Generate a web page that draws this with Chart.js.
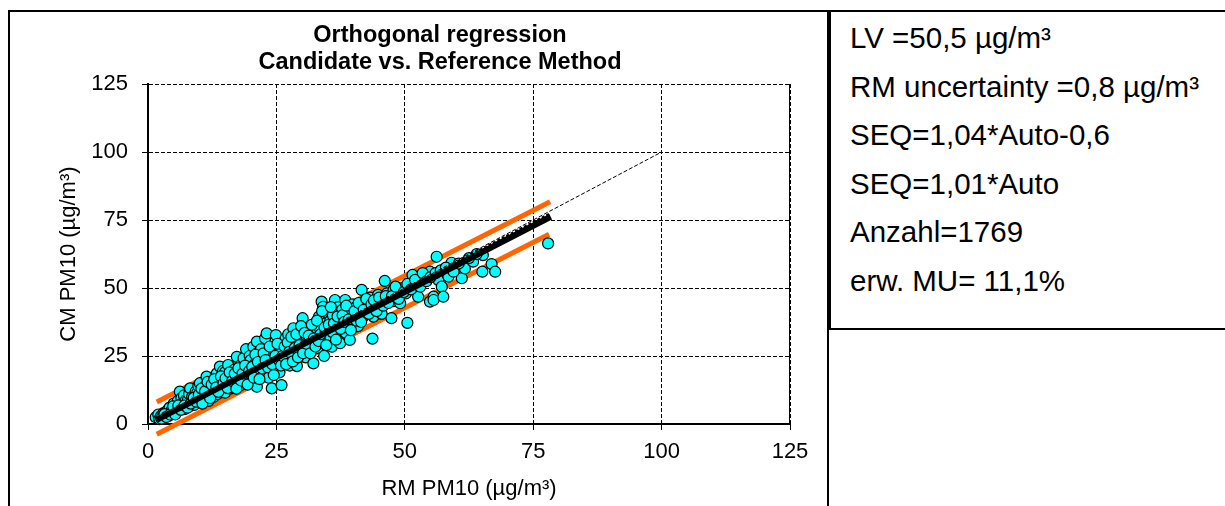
<!DOCTYPE html>
<html lang="en">

<head>
   <meta charset="UTF-8">
   <title>Orthogonal regression - PM10</title>
   <style>
      body { margin: 0; background: #fff; font-family: "Liberation Sans", Arial, sans-serif; }
      #chartBox { position: absolute; left: 8px; top: 10px; width: 821px; height: 520px; border: 2px solid #000; box-sizing: border-box; }
      #chartWrap { position: absolute; left: 10px; top: 12px; width: 860px; height: 494px; }
      #infoBox { position: absolute; left: 829px; top: 10px; width: 420px; height: 320px; border: 2px solid #000; box-sizing: border-box; background: #fff; z-index: 2; padding: 2px 0 0 19px; }
      #infoBox div { font-size: 29.5px; line-height: 48.5px; color: #000; white-space: nowrap; }
   </style>
</head>

<body>
   <script src="https://cdn.jsdelivr.net/npm/chart.js@4.4.1/dist/chart.umd.min.js"></script>
   <div id="chartBox"></div>
   <div id="chartWrap"><canvas id="scatter-chart"></canvas></div>
   <div id="infoBox">
      <div>LV =50,5 µg/m³</div>
      <div>RM uncertainty =0,8 µg/m³</div>
      <div>SEQ=1,04*Auto-0,6</div>
      <div>SEQ=1,01*Auto</div>
      <div>Anzahl=1769</div>
      <div>erw. MU= 11,1%</div>
   </div>
   <script>
      // paired values (RM = reference, CM = candidate)
      const rmPm10 = [1.5, 2, 2.2, 2.5, 3, 3, 3.4, 3.5, 3.8, 4, 4.2, 4.5, 4.6, 4.8, 5, 5, 5.2, 5.5, 5.6, 5.8,
         6, 6.2, 6.3, 6.5, 6.6, 6.8, 7, 7, 7.2, 7.4, 7.5, 7.8, 8, 8, 8.2, 8.5, 8.6, 8.8, 9, 9,
         9.3, 9.5, 9.6, 9.8, 10, 10.1, 10.3, 10.5, 10.8, 10.8, 11, 11.2, 11.4, 11.4, 11.8, 12, 12.2, 12.5, 12.6, 12.8,
         13, 13.2, 13.4, 13.5, 13.8, 14, 14, 14.3, 14.5, 14.6, 14.8, 15, 15, 15.3, 15.6, 15.8, 16, 16, 16.2, 16.6,
         16.8, 17, 17.3, 17.5, 17.8, 18, 18, 18.2, 18.6, 18.8, 19, 19.1, 19.2, 19.5, 19.8, 20, 20, 20.2, 20.5, 20.8,
         21, 21.2, 21.2, 21.2, 21.5, 21.8, 22, 22, 22.4, 22.6, 22.8, 23, 23.1, 23.3, 23.5, 23.8, 24, 24.1, 24.4, 24.6,
         24.9, 25, 25.3, 25.6, 25.8, 26, 26, 26.3, 26.5, 26.8, 27, 27, 27.3, 27.6, 27.8, 28, 28.3, 28.5, 28.8, 29,
         29, 29.3, 29.6, 30, 30.1, 30.4, 30.7, 30.9, 31, 31.2, 31.5, 31.8, 32, 32.2, 32.5, 32.8, 33, 33.3, 33.5, 33.8,
         34, 34.1, 34.3, 34.6, 34.8, 35, 35.4, 35.5, 35.8, 36, 36.4, 36.5, 36.8, 37, 37.2, 37.4, 37.8, 38, 38.4, 38.5,
         38.8, 39, 39.3, 39.6, 39.8, 40, 40.5, 40.9, 41.3, 41.6, 41.9, 42.3, 42.8, 43.2, 43.7, 43.9, 44.3, 44.8, 45.2, 45.5,
         46.1, 46.5, 47.1, 47.4, 47.8, 47.9, 48.5, 49.1, 49.5, 50.2, 50.5, 51, 51.5, 51.7, 52.3, 52.6, 53.2, 53.8, 54.9, 54.9,
         55.6, 55.6, 56.2, 56.5, 57.2, 57.5, 58.5, 59.1, 60, 61.1, 61.7, 63.3, 65.1, 65.2, 66.9, 67.6, 77.9,
         2.6, 3.2, 3.6, 4.3, 4.9, 5.3, 5.9, 6.4, 7.1, 7.7, 8.3, 8.9, 9.4, 9.9, 10.4, 10.6,
         11.1, 11.6, 12.1, 12.4, 12.9, 13.3, 13.7, 14.2, 14.7, 15.1, 15.5, 15.9, 16.4, 16.9, 17.2, 17.6, 18.1, 18.4, 18.9, 19.4,
         19.7, 20.3, 20.6, 20.9, 21.4, 21.7, 22.2, 22.5, 22.9, 23.4, 23.7, 24.2, 24.5, 24.8, 25.2, 25.5, 25.9, 26.2, 26.6, 26.9,
         27.2, 27.5, 27.9, 28.2, 28.6, 28.9, 29.2, 29.5, 29.8, 30.2, 30.5, 30.8, 31.3, 31.6, 31.9, 32.3, 32.6, 32.9, 33.2, 33.6,
         33.9, 34.4, 34.7, 35.2, 35.6, 35.9, 36.2, 36.6, 36.9, 37.5, 37.9, 38.2, 38.6, 39.1, 39.5, 40.2, 40.6, 41, 41.5, 42,
         42.5, 43, 43.5, 44, 44.5, 45, 45.8, 46.3, 46.8, 47.5, 48.2, 48.8, 49.8, 50.5, 51.2, 52, 53, 53.5, 54.2, 55,
         56, 57, 58, 59.5, 60.5, 62.5, 64];
      const cmPm10 = [2.5, 3.5, 1.8, 2.8, 4, 2.5, 4.2, 3.2, 5, 3, 6, 4.5, 5, 3.8, 5.5, 7.5, 4.2, 6.2, 5.5, 8.5,
         5, 11.9, 7, 9.5, 7.5, 6, 8, 10.5, 5.5, 8.8, 7.5, 9, 6.5, 11, 13.1, 8, 10, 8.8, 10, 7,
         12, 9, 11.5, 14, 8, 15, 11, 9.5, 12.5, 10.5, 10.5, 14, 17.4, 10, 8.5, 13, 11.5, 15.5, 13.8, 10,
         12.5, 16, 18.6, 11, 14, 12.5, 21.1, 15.5, 13, 19.5, 17, 11.5, 19, 14.5, 21.7, 16, 13, 17.5, 18, 13.7,
         20, 15.5, 24.7, 17, 14, 19.5, 21, 22, 24.2, 16.5, 18, 27.5, 16.2, 21, 25, 19, 23.5, 15.5, 28.4, 22,
         17.5, 26, 30.3, 13.7, 20, 24, 18.5, 27.5, 24.7, 21.5, 31.5, 19.5, 33.3, 26.5, 17, 22.5, 26, 13.1, 23.5, 28,
         32.7, 21, 25.5, 19, 29, 14.3, 27, 30, 23, 31.5, 28.4, 25, 33, 21.5, 24, 29, 35.2, 26, 31, 21.3,
         30.5, 27.5, 33.5, 28, 38.9, 31, 24.5, 31.1, 27, 35, 29, 33, 30, 22.3, 36.5, 33.3, 28, 39.5, 35, 45,
         31, 43.1, 25, 37, 41, 34, 32.4, 38, 28.4, 40, 45.6, 33, 35.5, 43, 38, 29.7, 42, 36, 45.6, 33.5,
         40, 42.5, 30.9, 37.5, 44, 39, 43, 36, 41, 49.3, 39.5, 44, 41.5, 46.5, 31.4, 39.5, 43, 47.5, 44.4, 40.5,
         52.6, 48, 46.2, 38.9, 49.3, 45.2, 47.5, 44.4, 50, 48, 37.2, 51, 54.8, 51.9, 49.9, 46.8, 52, 54, 56, 45,
         46.8, 45.6, 61.5, 53, 50.5, 46.8, 54.2, 59.3, 57.5, 53.6, 57.2, 59.7, 56, 62.1, 58.8, 56, 66.4,
         2, 3.6, 2.6, 3.5, 6.5, 3.5, 6.8, 5.2, 6.8, 6, 7.5, 9.6, 8.2, 10.8, 13, 7.5,
         12, 15.5, 9.5, 14.5, 16.5, 13.5, 11.8, 17.5, 15, 16.8, 13.2, 19, 15.8, 18.5, 13, 20.5, 16, 18.5, 21.5, 14.5,
         19.5, 21, 17, 25.5, 22.8, 16.5, 20.5, 26, 23.5, 20.8, 28.5, 22, 18, 25, 29.5, 23.5, 21.5, 25, 28.5, 22,
         30, 26.5, 32, 23, 28, 33, 24.5, 29, 36, 26, 33.5, 29.5, 32.5, 26, 36.5, 31.5, 28.5, 38, 30.5, 33,
         41.5, 35.5, 29, 36.5, 43, 33.8, 37, 31, 39.5, 35, 40, 37.5, 43.5, 38.5, 34.5, 41.5, 38, 44.5, 37.5, 42,
         46, 40.5, 44, 45.5, 41.5, 46.5, 43.5, 47, 44.5, 47, 50.5, 46, 48.5, 51.5, 49.5, 53, 50.5, 55.5, 52.5, 54,
         55.5, 56.5, 57.5, 56, 59, 61, 62.5];

      // fitted / limit lines (end points)
      const upperX = [1.7, 78.3];
      const upperY = [8.1, 81.7];
      const lowerX = [1.7, 78.1];
      const lowerY = [-3.8, 69.8];
      const fitX = [1.7, 78.4];
      const fitY = [1.5, 76.2];
      const seqX = [30, 78.2];
      const seqY = [30.2, 77.4];
      const idealX = [0.7, 100];
      const idealY = [0.8, 100];

      const axisTicks = [0, 25, 50, 75, 100, 125];

      function pairs(xs, ys) {
         return xs.map((x, i) => ({ x: x, y: ys[i] }));
      }

      const FONT = "'Liberation Sans', Arial, sans-serif";

      // solid right edge of the plot area
      const frame = {
         id: 'frame',
         afterDatasetsDraw(chart) {
            const a = chart.chartArea;
            const ctx = chart.ctx;
            ctx.save();
            ctx.strokeStyle = '#000';
            ctx.lineWidth = 1;
            ctx.setLineDash([]);
            ctx.beginPath();
            ctx.moveTo(a.right - 0.5, a.top);
            ctx.lineTo(a.right - 0.5, a.bottom);
            ctx.stroke();
            ctx.restore();
         }
      };

      function lineSet(xs, ys, color, width, dash, order) {
         return {
            type: 'scatter',
            data: pairs(xs, ys),
            showLine: true,
            borderColor: color,
            borderWidth: width,
            borderDash: dash,
            pointRadius: 0,
            fill: false,
            order: order
         };
      }

      const gridOpts = { color: '#000', lineWidth: 1, tickLength: 6, tickColor: '#000', tickBorderDash: [] };

      new Chart(document.getElementById('scatter-chart'), {
         type: 'scatter',
         data: {
            datasets: [
               lineSet(upperX, upperY, '#FF6600', 5, [], 4),
               lineSet(lowerX, lowerY, '#FF6600', 5, [], 4),
               {
                  data: pairs(rmPm10, cmPm10),
                  backgroundColor: '#00FFFF',
                  borderColor: '#000',
                  borderWidth: 1.2,
                  pointRadius: 5.5,
                  order: 3
               },
               lineSet(fitX, fitY, '#000', 6, [], 2),
               lineSet(seqX, seqY, '#000', 2, [3, 2], 1),
               lineSet(idealX, idealY, '#000', 1, [4, 2], 0)
            ]
         },
         options: {
            responsive: true,
            maintainAspectRatio: false,
            animation: false,
            clip: false,
            layout: { padding: 0 },
            plugins: {
               legend: { display: false },
               tooltip: { enabled: false },
               title: {
                  display: true,
                  text: ['Orthogonal regression', 'Candidate vs. Reference Method'],
                  color: '#000',
                  font: { family: FONT, size: 23.5, weight: 'bold', lineHeight: 1.15 },
                  padding: { top: 10, bottom: 8 }
               }
            },
            scales: {
               x: {
                  type: 'linear',
                  min: 0,
                  max: 125,
                  afterFit: s => { s.height = 82; },
                  afterBuildTicks: s => { s.ticks = axisTicks.map(v => ({ value: v })); },
                  ticks: { color: '#000', padding: 9, font: { family: FONT, size: 22 } },
                  grid: gridOpts,
                  border: { color: '#000', width: 2, dash: [4, 2] },
                  title: { display: true, text: 'RM PM10 (µg/m³)', color: '#000', font: { family: FONT, size: 22 }, padding: { top: 0, bottom: 4 } }
               },
               y: {
                  type: 'linear',
                  min: 0,
                  max: 125,
                  afterFit: s => { s.width = 138; },
                  afterBuildTicks: s => { s.ticks = axisTicks.map(v => ({ value: v })); },
                  ticks: { color: '#000', padding: 14, font: { family: FONT, size: 22 } },
                  grid: gridOpts,
                  border: { color: '#000', width: 2, dash: [4, 2] },
                  title: { display: true, text: 'CM PM10 (µg/m³)', color: '#000', font: { family: FONT, size: 22 }, padding: { top: 46, bottom: 0 } }
               },
               // empty spacer on the right so the title centres like the original
               spacer: {
                  type: 'linear',
                  position: 'right',
                  display: true,
                  afterFit: s => { s.width = 80; },
                  ticks: { display: false },
                  grid: { display: false },
                  border: { display: false }
               }
            }
         },
         plugins: [frame]
      });
   </script>
</body>

</html>
